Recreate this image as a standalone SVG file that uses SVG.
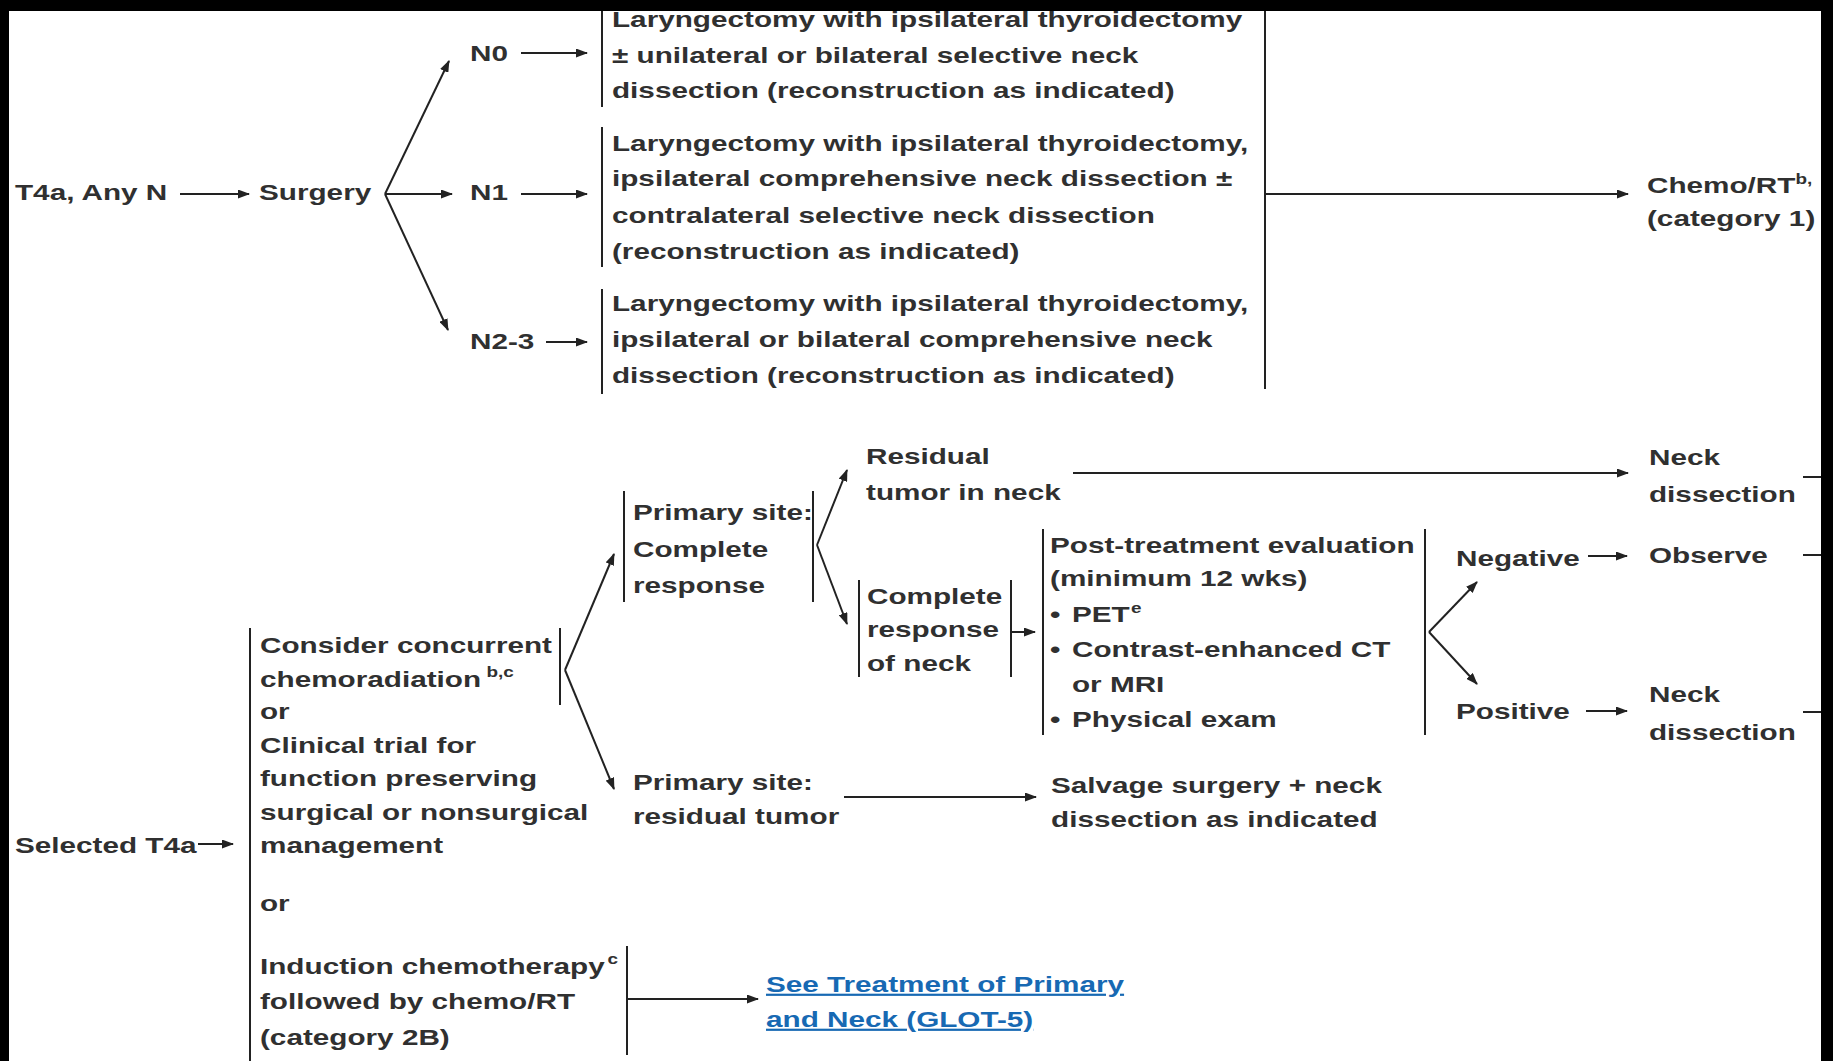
<svg xmlns="http://www.w3.org/2000/svg" width="1833" height="1061" viewBox="0 0 1833 1061">
<defs>
<marker id="ah" markerWidth="12" markerHeight="9" refX="11" refY="4.5" orient="auto" markerUnits="userSpaceOnUse">
<path d="M0,0 L12,4.5 L0,9 z" fill="#222"/>
</marker>
<style>
text{font-family:"Liberation Sans",Arial,sans-serif;font-size:22px;font-weight:bold;fill:#303030}
.sup{font-size:14px}
.link{fill:#1769b3;text-decoration:underline}
.ln{stroke:#222;stroke-width:2;fill:none}
.ar{stroke:#222;stroke-width:2;fill:none;marker-end:url(#ah)}
</style>
</defs>
<rect width="1833" height="1061" fill="#fff"/>

<g id="connectors">
<line class="ar" x1="180" y1="194" x2="249" y2="194"/>
<line class="ar" x1="385" y1="194" x2="449" y2="61"/>
<line class="ar" x1="385" y1="194" x2="452" y2="194"/>
<line class="ar" x1="385" y1="194" x2="448" y2="330"/>
<line class="ar" x1="521" y1="53" x2="587" y2="53"/>
<line class="ar" x1="521" y1="194" x2="587" y2="194"/>
<line class="ar" x1="546" y1="342" x2="587" y2="342"/>
<line class="ar" x1="1265" y1="194" x2="1628" y2="194"/>
<line class="ar" x1="198" y1="844" x2="233" y2="844"/>
<line class="ar" x1="565" y1="670" x2="614" y2="554"/>
<line class="ar" x1="565" y1="670" x2="614" y2="789"/>
<line class="ar" x1="817" y1="545" x2="847" y2="470"/>
<line class="ar" x1="817" y1="545" x2="847" y2="624"/>
<line class="ar" x1="1073" y1="473" x2="1628" y2="473"/>
<line class="ar" x1="1011" y1="632" x2="1035" y2="632"/>
<line class="ar" x1="1429" y1="632" x2="1477" y2="582"/>
<line class="ar" x1="1429" y1="632" x2="1477" y2="684"/>
<line class="ar" x1="1588" y1="556" x2="1627" y2="556"/>
<line class="ar" x1="1586" y1="711" x2="1627" y2="711"/>
<line class="ar" x1="844" y1="797" x2="1036" y2="797"/>
<line class="ar" x1="627" y1="999" x2="758" y2="999"/>
<line class="ln" x1="1803" y1="477" x2="1833" y2="477"/>
<line class="ln" x1="1803" y1="555" x2="1833" y2="555"/>
<line class="ln" x1="1803" y1="712" x2="1833" y2="712"/>
</g>

<g id="n-t4a"><g transform="scale(1.35,1)"><text x="11.11" y="200">T4a, Any N</text></g></g>
<g id="n-surgery"><g transform="scale(1.35,1)"><text x="191.85" y="200">Surgery</text></g></g>
<g id="n-n0"><g transform="scale(1.35,1)"><text x="348.15" y="61">N0</text></g></g>
<g id="n-n1"><g transform="scale(1.35,1)"><text x="348.15" y="200">N1</text></g></g>
<g id="n-n23"><g transform="scale(1.35,1)"><text x="348.15" y="349">N2-3</text></g></g>

<g id="n-n0-box">
<line class="ln" x1="602" y1="11" x2="602" y2="107"/>
<g transform="scale(1.35,1)">
<text x="453.33" y="27">Laryngectomy with ipsilateral thyroidectomy</text>
<text x="453.33" y="63">± unilateral or bilateral selective neck</text>
<text x="453.33" y="98">dissection (reconstruction as indicated)</text>
</g></g>

<g id="n-n1-box">
<line class="ln" x1="602" y1="127" x2="602" y2="267"/>
<g transform="scale(1.35,1)">
<text x="453.33" y="151">Laryngectomy with ipsilateral thyroidectomy,</text>
<text x="453.33" y="186">ipsilateral comprehensive neck dissection ±</text>
<text x="453.33" y="223">contralateral selective neck dissection</text>
<text x="453.33" y="259">(reconstruction as indicated)</text>
</g></g>

<g id="n-n23-box">
<line class="ln" x1="602" y1="289" x2="602" y2="394"/>
<g transform="scale(1.35,1)">
<text x="453.33" y="311">Laryngectomy with ipsilateral thyroidectomy,</text>
<text x="453.33" y="347">ipsilateral or bilateral comprehensive neck</text>
<text x="453.33" y="383">dissection (reconstruction as indicated)</text>
</g></g>

<g id="n-join"><line class="ln" x1="1265" y1="11" x2="1265" y2="389"/></g>

<g id="n-chemo-rt"><g transform="scale(1.35,1)">
<text x="1220" y="193">Chemo/RT<tspan class="sup" dy="-9">b,</tspan></text>
<text x="1220" y="226">(category 1)</text>
</g></g>

<g id="n-selected"><g transform="scale(1.35,1)"><text x="11.11" y="853">Selected T4a</text></g></g>

<g id="n-options">
<line class="ln" x1="250" y1="628" x2="250" y2="1061"/>
<line class="ln" x1="560" y1="628" x2="560" y2="705"/>
<line class="ln" x1="627" y1="946" x2="627" y2="1055"/>
<g transform="scale(1.35,1)">
<text x="192.59" y="653">Consider concurrent</text>
<text x="192.59" y="687">chemoradiation<tspan class="sup" dx="4" dy="-10">b,c</tspan></text>
<text x="192.59" y="719">or</text>
<text x="192.59" y="753">Clinical trial for</text>
<text x="192.59" y="786">function preserving</text>
<text x="192.59" y="820">surgical or nonsurgical</text>
<text x="192.59" y="853">management</text>
<text x="192.59" y="911">or</text>
<text x="192.59" y="974">Induction chemotherapy<tspan class="sup" dx="2" dy="-10">c</tspan></text>
<text x="192.59" y="1009">followed by chemo/RT</text>
<text x="192.59" y="1045">(category 2B)</text>
</g></g>

<g id="n-primary-cr">
<line class="ln" x1="624" y1="491" x2="624" y2="602"/>
<line class="ln" x1="813" y1="491" x2="813" y2="602"/>
<g transform="scale(1.35,1)">
<text x="468.89" y="520">Primary site:</text>
<text x="468.89" y="557">Complete</text>
<text x="468.89" y="593">response</text>
</g></g>

<g id="n-residual-neck"><g transform="scale(1.35,1)">
<text x="641.48" y="464">Residual</text>
<text x="641.48" y="500">tumor in neck</text>
</g></g>

<g id="n-neck-dissection-1"><g transform="scale(1.35,1)">
<text x="1221.48" y="465">Neck</text>
<text x="1221.48" y="502">dissection</text>
</g></g>

<g id="n-cr-neck">
<line class="ln" x1="859" y1="580" x2="859" y2="677"/>
<line class="ln" x1="1011" y1="580" x2="1011" y2="677"/>
<g transform="scale(1.35,1)">
<text x="642.22" y="604">Complete</text>
<text x="642.22" y="637">response</text>
<text x="642.22" y="671">of neck</text>
</g></g>

<g id="n-post-eval">
<line class="ln" x1="1043" y1="529" x2="1043" y2="735"/>
<line class="ln" x1="1425" y1="529" x2="1425" y2="735"/>
<g transform="scale(1.35,1)">
<text x="777.78" y="553">Post-treatment evaluation</text>
<text x="777.78" y="586">(minimum 12 wks)</text>
<text x="777.78" y="622">•</text><text x="794.07" y="622">PET<tspan class="sup" dx="1" dy="-9">e</tspan></text>
<text x="777.78" y="657">•</text><text x="794.07" y="657">Contrast-enhanced CT</text>
<text x="794.07" y="692">or MRI</text>
<text x="777.78" y="727">•</text><text x="794.07" y="727">Physical exam</text>
</g></g>

<g id="n-negative"><g transform="scale(1.35,1)"><text x="1078.52" y="566">Negative</text></g></g>
<g id="n-observe"><g transform="scale(1.35,1)"><text x="1221.48" y="563">Observe</text></g></g>
<g id="n-positive"><g transform="scale(1.35,1)"><text x="1078.52" y="719">Positive</text></g></g>
<g id="n-neck-dissection-2"><g transform="scale(1.35,1)">
<text x="1221.48" y="702">Neck</text>
<text x="1221.48" y="740">dissection</text>
</g></g>

<g id="n-primary-residual"><g transform="scale(1.35,1)">
<text x="468.89" y="790">Primary site:</text>
<text x="468.89" y="824">residual tumor</text>
</g></g>

<g id="n-salvage"><g transform="scale(1.35,1)">
<text x="778.52" y="793">Salvage surgery + neck</text>
<text x="778.52" y="827">dissection as indicated</text>
</g></g>

<g id="n-link"><g transform="scale(1.35,1)">
<text class="link" x="567.41" y="992">See Treatment of Primary</text>
<text class="link" x="567.41" y="1027">and Neck (GLOT-5)</text>
</g></g>

<g id="frame">
<rect x="0" y="0" width="1833" height="11" fill="#000"/>
<rect x="0" y="0" width="9" height="1061" fill="#000"/>
<rect x="1821" y="0" width="12" height="1061" fill="#000"/>
</g>
</svg>
